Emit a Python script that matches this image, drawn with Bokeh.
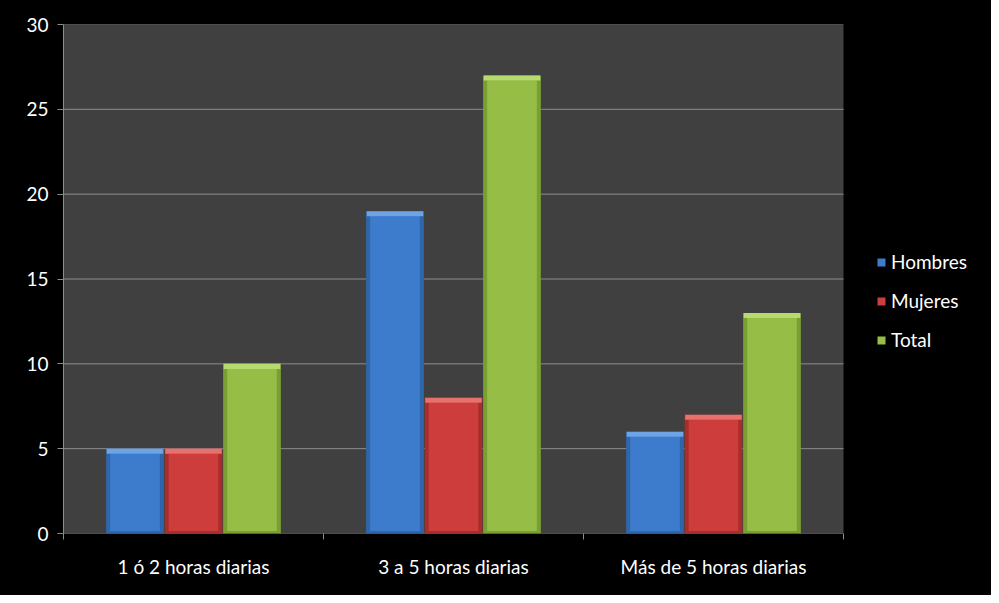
from bokeh.plotting import figure
from bokeh.models import ColumnDataSource, FixedTicker, Legend, LegendItem, Range1d
from bokeh.embed import file_html
from bokeh.resources import INLINE

categories = ["1 ó 2 horas diarias", "3 a 5 horas diarias", "Más de 5 horas diarias"]
series_names = ["Hombres", "Mujeres", "Total"]
hombres = [5, 19, 6]
mujeres = [5, 8, 7]
total = [10, 27, 13]
yticks = [0, 5, 10, 15, 20, 25, 30]

series_values = [hombres, mujeres, total]
offsets = [-0.225, 0.0, 0.225]
bar_w = 0.222
# (edge, body, top bevel)
palettes = [
    ("#2f66aa", "#3d7ccc", "#6ea4e6"),
    ("#a82e2c", "#cc3d3b", "#e8706d"),
    ("#7aa033", "#96be46", "#b7da6e"),
]

FONT = "Lato"
FS = "19px"
GRID = "#8c8c8c"

W, H = 991, 595
LEFT, TOP, BOTTOM = 63, 24, 62
PLOT_W = 780          # pixel width of the data area
n = len(categories)
unit_px = PLOT_W / n
x_end = (W - LEFT) / unit_px   # frame extends under the legend area
y_max = yticks[-1]

p = figure(width=W, height=H, x_range=Range1d(0, x_end), y_range=Range1d(0, y_max),
           output_backend="svg", toolbar_location=None,
           min_border_left=LEFT, min_border_right=0, min_border_top=TOP,
           min_border_bottom=BOTTOM,
           background_fill_color="black", border_fill_color="black",
           outline_line_color=None)
p.styles = {"background-color": "black"}

p.xgrid.grid_line_color = None
p.ygrid.grid_line_color = None
p.xgrid.visible = False
p.ygrid.visible = False

# plot-area background
p.quad(left=[0], right=[n], bottom=[0], top=[y_max], fill_color="#404040", line_color=None)
# horizontal gridlines (0 is the x-axis line)
p.segment(x0=[0] * len(yticks), x1=[n] * len(yticks), y0=yticks, y1=yticks,
          line_color=GRID, line_width=1)

legend_items = []
for name, vals, off, (edge, body, top) in zip(series_names, series_values, offsets, palettes):
    xs = [i + 0.5 + off for i in range(len(vals))]
    src = ColumnDataSource(dict(x=xs, top=vals, bevel=[v - 0.3 for v in vals]))
    p.vbar(x="x", top="top", bottom=0, width=bar_w, source=src,
           fill_color=edge, line_color=None)
    r = p.vbar(x="x", top="bevel", bottom=0.15, width=bar_w * 0.86, source=src,
               fill_color=body, line_color=None)
    p.vbar(x="x", top="top", bottom="bevel", width=bar_w * 0.98, source=src,
           fill_color=top, line_color=None)
    legend_items.append(LegendItem(label=name, renderers=[r]))

# y axis
p.yaxis.ticker = FixedTicker(ticks=yticks)
p.yaxis.major_tick_out = 6
p.yaxis.major_tick_in = 0
p.yaxis.minor_tick_line_color = None
p.yaxis.axis_line_color = GRID
p.yaxis.major_tick_line_color = GRID
p.yaxis.major_label_text_color = "white"
p.yaxis.major_label_text_font = FONT
p.yaxis.major_label_text_font_size = FS
p.yaxis.major_label_standoff = 9

# x axis: labels at category centres, tick marks at category boundaries
p.xaxis.ticker = FixedTicker(ticks=[i + 0.5 for i in range(n)],
                             minor_ticks=list(range(n + 1)))
p.xaxis.bounds = (0, n)
p.xaxis.major_label_overrides = {i + 0.5: c for i, c in enumerate(categories)}
p.xaxis.axis_line_color = None
p.xaxis.major_tick_out = 0
p.xaxis.major_tick_in = 0
p.xaxis.major_tick_line_color = None
p.xaxis.minor_tick_out = 6
p.xaxis.minor_tick_in = 0
p.xaxis.minor_tick_line_color = GRID
p.xaxis.major_label_text_color = "white"
p.xaxis.major_label_text_font = FONT
p.xaxis.major_label_text_font_size = FS
p.xaxis.major_label_standoff = 15

legend = Legend(items=legend_items, location=(813, 182))
legend.background_fill_alpha = 0
legend.border_line_color = None
legend.label_text_color = "white"
legend.label_text_font = FONT
legend.label_text_font_size = FS
legend.glyph_width = 10
legend.glyph_height = 10
legend.label_height = 20
legend.spacing = 16
legend.padding = 0
legend.margin = 0
legend.label_standoff = 5
p.add_layout(legend)

open("out.html", "w").write(file_html(p, INLINE))
